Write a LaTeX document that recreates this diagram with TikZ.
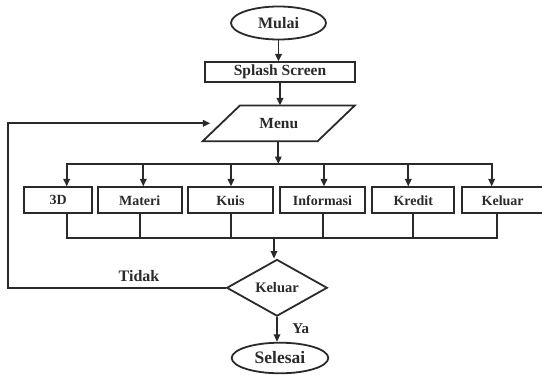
\documentclass[tikz,border=0pt]{standalone}
\usepackage{fontspec}
\setmainfont{Liberation Serif}
\usetikzlibrary{shapes.geometric,arrows.meta}
\definecolor{ink}{HTML}{2a2a2a}
\begin{document}
\begin{tikzpicture}[x=1pt,y=-1pt,
  every node/.style={text=ink,font=\bfseries},
  line/.style={draw=ink,line width=1.8pt},
  arr/.style={line,-{Triangle[length=7.5pt,width=6.5pt]}},
  term/.style={line,ellipse,inner sep=0pt},
  proc/.style={line,rectangle,inner sep=0pt},
  dec/.style={line,diamond,inner sep=0pt},
  fs/.style={font=\bfseries\fontsize{#1}{#1}\selectfont}
]
\useasboundingbox (0,0) rectangle (542,375);

\node[term,minimum width=95pt,minimum height=33pt,fs=16] (mulai) at (278.5,23) {Mulai};
\node[proc,minimum width=150pt,minimum height=19.4pt,fs=15.5] (splash) at (280,72) {Splash Screen};
\node[inner sep=0pt,minimum width=114.5pt,minimum height=35.3pt,fs=15.5] (menu) at (278.8,123.3) {Menu};
\draw[line,line join=miter] ([xshift=18.6pt]menu.north west) -- ([xshift=18.6pt]menu.north east)
  -- ([xshift=-18.6pt]menu.south east) -- ([xshift=-18.6pt]menu.south west) -- cycle;

\node[proc,minimum width=68pt,minimum height=26pt,fs=14] (b1) at (58.3,200.3) {3D};
\node[proc,minimum width=84pt,minimum height=26pt,fs=14] (b2) at (139.7,200.3) {Materi};
\node[proc,minimum width=84.4pt,minimum height=26pt,fs=14] (b3) at (230.5,200.3) {Kuis};
\node[proc,minimum width=85pt,minimum height=26pt,fs=14] (b4) at (322.5,200.3) {Informasi};
\node[proc,minimum width=82pt,minimum height=26pt,fs=14] (b5) at (413.3,200.3) {Kredit};
\node[proc,minimum width=80.7pt,minimum height=26pt,fs=14] (b6) at (502.7,200.3) {Keluar};

\node[dec,minimum width=100.6pt,minimum height=56.7pt,fs=14.5] (kel) at (277,287.8) {Keluar};
\node[term,minimum width=96.6pt,minimum height=30.6pt,fs=17.5] (selesai) at (280,358) {Selesai};

\node[fs=16] (tidak) at (139,276) {Tidak};
\node[fs=15] (ya) at (300.7,328.3) {Ya};

% bus coordinates
\coordinate (bus) at (278.3,164);
\coordinate (t1) at (66.7,164);
\coordinate (t2) at (143.3,164);
\coordinate (t3) at (231,164);
\coordinate (t4) at (324,164);
\coordinate (t5) at (408.3,164);
\coordinate (t6) at (491.7,164);
\coordinate (c1) at (66.7,238.3);
\coordinate (c2) at (140,238.3);
\coordinate (c3) at (230.7,238.3);
\coordinate (c4) at (322.7,238.3);
\coordinate (c5) at (412.7,238.3);
\coordinate (c6) at (496.7,238.3);
\coordinate (cm) at (274,238.3);
\coordinate (lb) at (8.3,287.8);
\coordinate (lt) at (8.3,123.3);

\draw[arr] (mulai.south) -- (mulai.south |- splash.north);
\draw[arr] (splash.south) -- (splash.south |- menu.north);
\draw[arr] (menu.south -| bus) -- (bus);
\draw[line,line cap=rect] (t1) -- (t6);
\foreach \i in {1,...,6} {
  \draw[arr] (t\i) -- (t\i |- b\i.north);
  \draw[line] (c\i |- b\i.south) -- (c\i);
}
\draw[line,line cap=rect] (c1) -- (c6);
\draw[arr] (cm) -- (cm |- kel.north);
\draw[arr,shorten >=11pt,line join=miter] (kel.west) -- (lb) -- (lt) -- (menu.west);
\draw[arr] (kel.south) -- (kel.south |- selesai.north);
\end{tikzpicture}
\end{document}
